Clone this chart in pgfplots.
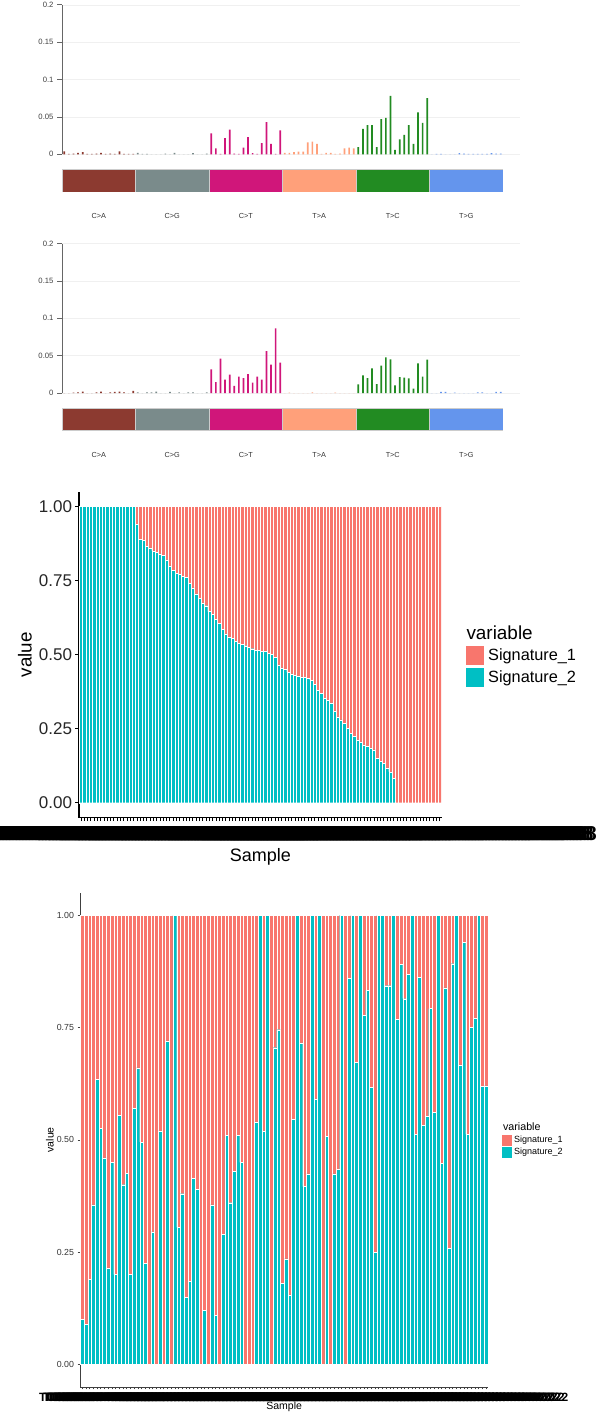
\documentclass[border=0pt]{standalone}
\usepackage{pgfplots}
\pgfplotsset{compat=1.18}
\usepackage{pgfplotstable}
\usepackage{fontspec}
\setmainfont{Liberation Sans}
\newcommand{\fs}[1]{\fontsize{#1pt}{#1pt}\selectfont}
\definecolor{cCA}{RGB}{140,58,48}
\definecolor{cCG}{RGB}{122,139,139}
\definecolor{cCT}{RGB}{208,22,122}
\definecolor{cTA}{RGB}{255,160,122}
\definecolor{cTC}{RGB}{34,139,34}
\definecolor{cTG}{RGB}{100,149,237}
\definecolor{sigone}{HTML}{F8766D}
\definecolor{sigtwo}{HTML}{00BFC4}
\newcommand{\labA}{TCGA-AB-2803-03A-01W-0728-08}
\newcommand{\labS}{TCGA-AB-2803}
\newcommand{\labL}{TCGA-AB-2803-03A-01W-072}

\pgfplotstableread{
x s2 s1
0 1 0
1 1 0
2 1 0
3 1 0
4 1 0
5 1 0
6 1 0
7 1 0
8 1 0
9 1 0
10 1 0
11 1 0
12 1 0
13 1 0
14 1 0
15 1 0
16 1 0
17 0.94 0.06
18 0.89 0.11
19 0.885 0.115
20 0.865 0.135
21 0.86 0.14
22 0.85 0.15
23 0.845 0.155
24 0.84 0.16
25 0.835 0.165
26 0.82 0.18
27 0.80 0.20
28 0.785 0.215
29 0.775 0.225
30 0.77 0.23
31 0.765 0.235
32 0.76 0.24
33 0.74 0.26
34 0.725 0.275
35 0.705 0.295
36 0.69 0.31
37 0.675 0.325
38 0.665 0.335
39 0.645 0.355
40 0.635 0.365
41 0.62 0.38
42 0.605 0.395
43 0.585 0.415
44 0.57 0.43
45 0.56 0.44
46 0.555 0.445
47 0.545 0.455
48 0.54 0.46
49 0.535 0.465
50 0.53 0.47
51 0.525 0.475
52 0.52 0.48
53 0.515 0.485
54 0.515 0.485
55 0.51 0.49
56 0.51 0.49
57 0.505 0.495
58 0.50 0.50
59 0.49 0.51
60 0.465 0.535
61 0.455 0.545
62 0.45 0.55
63 0.44 0.56
64 0.435 0.565
65 0.43 0.57
66 0.428 0.572
67 0.425 0.575
68 0.423 0.577
69 0.42 0.58
70 0.414 0.586
71 0.40 0.60
72 0.38 0.62
73 0.37 0.63
74 0.353 0.647
75 0.345 0.655
76 0.337 0.663
77 0.31 0.69
78 0.29 0.71
79 0.28 0.72
80 0.268 0.732
81 0.25 0.75
82 0.234 0.766
83 0.225 0.775
84 0.212 0.788
85 0.205 0.795
86 0.195 0.805
87 0.19 0.81
88 0.185 0.815
89 0.178 0.822
90 0.149 0.851
91 0.14 0.86
92 0.132 0.868
93 0.118 0.882
94 0.104 0.896
95 0.082 0.918
96 0 1
97 0 1
98 0 1
99 0 1
100 0 1
101 0 1
102 0 1
103 0 1
104 0 1
105 0 1
106 0 1
107 0 1
108 0 1
109 0 1
}\sortedtab

\pgfplotstableread{
x s2 s1
0 0.10 0.90
1 0.09 0.91
2 0.19 0.81
3 0.355 0.645
4 0.635 0.365
5 0.525 0.475
6 0.46 0.54
7 0.215 0.785
8 0.45 0.55
9 0.20 0.80
10 0.555 0.445
11 0.40 0.60
12 0.425 0.575
13 0.20 0.80
14 0.57 0.43
15 0.66 0.34
16 0.495 0.505
17 0.225 0.775
18 0 1
19 0.295 0.705
20 0 1
21 0.52 0.48
22 0 1
23 0.72 0.28
24 0 1
25 1 0
26 0.305 0.695
27 0.38 0.62
28 0.15 0.85
29 0.185 0.815
30 0.415 0.585
31 0.39 0.61
32 0 1
33 0.12 0.88
34 0 1
35 0.355 0.645
36 0.11 0.89
37 0 1
38 0.29 0.71
39 0.51 0.49
40 0.36 0.64
41 0.43 0.57
42 0.51 0.49
43 0.45 0.55
44 0 1
45 0 1
46 0 1
47 0.54 0.46
48 1 0
49 0.52 0.48
50 1 0
51 0 1
52 0.705 0.295
53 0.745 0.255
54 0.18 0.82
55 0.235 0.765
56 0.155 0.845
57 0.545 0.455
58 1 0
59 0.716 0.284
60 0.396 0.604
61 0.424 0.576
62 1 0
63 0.591 0.409
64 1 0
65 0 1
66 0.508 0.492
67 0 1
68 0.424 0.576
69 0.435 0.565
70 1 0
71 0 1
72 0.859 0.141
73 1 0
74 0.673 0.327
75 1 0
76 0.777 0.223
77 0.833 0.167
78 0.617 0.383
79 0.249 0.751
80 1 0
81 1 0
82 0.843 0.157
83 0.843 0.157
84 1 0
85 0.768 0.232
86 0.89 0.11
87 0.814 0.186
88 0.868 0.132
89 1 0
90 0.512 0.488
91 0.862 0.138
92 0.532 0.468
93 0.553 0.447
94 0.792 0.208
95 0.561 0.439
96 1 0
97 0.448 0.552
98 0.838 0.162
99 0.258 0.742
100 0.892 0.108
101 1 0
102 0.667 0.333
103 0.94 0.06
104 0.512 0.488
105 0.751 0.249
106 0.77 0.23
107 1 0
108 0.619 0.381
109 0.62 0.38
}\rawtab

\pgfplotsset{
  spec/.style={
    scale only axis, width=458pt, height=149.5pt,
    xmin=-0.5, xmax=99.2, ymin=0, ymax=0.2,
    axis x line=none, axis y line=left,
    y axis line style={-, draw=black!60, line width=0.7pt},
    ytick={0,0.05,0.1,0.15,0.2},
    yticklabels={0,0.05,0.1,0.15,0.2},
    ytick style={draw=black!60, line width=0.7pt},
    tick align=outside, major tick length=5pt,
    yticklabel style={font=\fs{7.7}, text=black!75},
    ymajorgrids, grid style={black!6, line width=0.5pt},
    clip=false,
  },
  specbar/.style={ybar, bar width=1.7pt, bar shift=0pt, draw=none, fill=#1},
  strip/.style={
    scale only axis, width=441pt, height=#1,
    xmin=-0.5, xmax=95.5, ymin=0, ymax=1,
    axis line style={draw=none}, major tick length=0pt,
    ytick=\empty, xtick={7.5,23.5,39.5,55.5,71.5,87.5},
    xticklabels={C>A,C>G,C>T,T>A,T>C,T>G},
    xticklabel style={font=\fs{7.3}, text=black!80, anchor=center, yshift=-24pt},
  },
  stripbar/.style={ybar, bar width=16, bar shift=0pt, fill=#1, draw=white!80!black, line width=0.6pt},
}

\begin{document}
\begin{tikzpicture}
\useasboundingbox (0pt,0pt) rectangle (596pt,-1415pt);

% ---------------- panel 1 ----------------
\begin{axis}[spec, at={(62pt,-154.3pt)}, anchor=south west]
\addplot[specbar=cCA] coordinates {(0,0.004)(1,0.0005)(2,0.0008)(3,0.002)(4,0.003)(5,0.0005)(6,0.0005)(7,0.001)(8,0.002)(9,0.0005)(10,0.001)(11,0.0005)(12,0.004)(13,0.0005)(14,0.0005)(15,0.0005)};
\addplot[specbar=cCG] coordinates {(16,0.002)(17,0.0005)(18,0.0005)(19,0)(20,0)(21,0)(22,0.001)(23,0)(24,0.002)(25,0)(26,0)(27,0)(28,0.0015)(29,0)(30,0)(31,0.001)};
\addplot[specbar=cCT] coordinates {(32,0.028)(33,0.008)(34,0.0005)(35,0.0215)(36,0.033)(37,0.001)(38,0.0005)(39,0.009)(40,0.023)(41,0.0015)(42,0.0005)(43,0.015)(44,0.043)(45,0.014)(46,0.0005)(47,0.032)};
\addplot[specbar=cTA] coordinates {(48,0.002)(49,0.002)(50,0.003)(51,0.0035)(52,0.0035)(53,0.016)(54,0.017)(55,0.014)(56,0.0005)(57,0.002)(58,0.002)(59,0.0005)(60,0.001)(61,0.008)(62,0.009)(63,0.008)};
\addplot[specbar=cTC] coordinates {(64,0.0095)(65,0.034)(66,0.039)(67,0.039)(68,0.0095)(69,0.047)(70,0.0487)(71,0.078)(72,0.006)(73,0.020)(74,0.026)(75,0.039)(76,0.014)(77,0.056)(78,0.042)(79,0.075)};
\addplot[specbar=cTG] coordinates {(80,0)(81,0.0005)(82,0.0005)(83,0)(84,0)(85,0)(86,0.0015)(87,0.001)(88,0.0005)(89,0.0005)(90,0.0005)(91,0.0005)(92,0.0005)(93,0.0015)(94,0.001)(95,0.001)};
\end{axis}
\begin{axis}[strip=23pt, at={(62pt,-192pt)}, anchor=south west]
\addplot[stripbar=cCA] coordinates {(7.5,1)};
\addplot[stripbar=cCG] coordinates {(23.5,1)};
\addplot[stripbar=cCT] coordinates {(39.5,1)};
\addplot[stripbar=cTA] coordinates {(55.5,1)};
\addplot[stripbar=cTC] coordinates {(71.5,1)};
\addplot[stripbar=cTG] coordinates {(87.5,1)};
\end{axis}

% ---------------- panel 2 ----------------
\begin{axis}[spec, at={(62pt,-393pt)}, anchor=south west]
\addplot[specbar=cCA] coordinates {(0,0)(1,0)(2,0.0005)(3,0.0008)(4,0.002)(5,0)(6,0)(7,0.0008)(8,0.002)(9,0)(10,0.001)(11,0.0015)(12,0.002)(13,0.001)(14,0)(15,0.003)};
\addplot[specbar=cCG] coordinates {(16,0.0008)(17,0)(18,0.0008)(19,0.001)(20,0.002)(21,0)(22,0)(23,0.0015)(24,0)(25,0.0008)(26,0)(27,0.0008)(28,0.0008)(29,0)(30,0)(31,0.0008)};
\addplot[specbar=cCT] coordinates {(32,0.0317)(33,0.0147)(34,0.046)(35,0.018)(36,0.0245)(37,0.0094)(38,0.022)(39,0.020)(40,0.0254)(41,0.0138)(42,0.022)(43,0.018)(44,0.056)(45,0.038)(46,0.0866)(47,0.0406)};
\addplot[specbar=cTA] coordinates {(48,0)(49,0.0005)(50,0)(51,0)(52,0)(53,0)(54,0.001)(55,0)(56,0)(57,0)(58,0)(59,0.0005)(60,0)(61,0)(62,0)(63,0)};
\addplot[specbar=cTC] coordinates {(64,0.0116)(65,0.0237)(66,0.020)(67,0.033)(68,0.012)(69,0.0366)(70,0.0478)(71,0.045)(72,0.0103)(73,0.0214)(74,0.0205)(75,0.0196)(76,0.006)(77,0.0397)(78,0.0219)(79,0.0446)};
\addplot[specbar=cTG] coordinates {(80,0)(81,0)(82,0.0015)(83,0.0015)(84,0)(85,0.0005)(86,0)(87,0)(88,0)(89,0)(90,0.001)(91,0.001)(92,0)(93,0)(94,0.0015)(95,0.0015)};
\end{axis}
\begin{axis}[strip=22pt, at={(62pt,-430.5pt)}, anchor=south west]
\addplot[stripbar=cCA] coordinates {(7.5,1)};
\addplot[stripbar=cCG] coordinates {(23.5,1)};
\addplot[stripbar=cCT] coordinates {(39.5,1)};
\addplot[stripbar=cTA] coordinates {(55.5,1)};
\addplot[stripbar=cTC] coordinates {(71.5,1)};
\addplot[stripbar=cTG] coordinates {(87.5,1)};
\end{axis}

% ---------------- panel 3 (sorted) ----------------
\begin{axis}[
  at={(79pt,-817.5pt)}, anchor=south west,
  scale only axis, width=362.7pt, height=325.8pt,
  xmin=-0.6, xmax=109.6, ymin=-0.05, ymax=1.05,
  ybar stacked, bar width=1,
  axis x line=bottom, axis y line=left,
  axis line style={-, black, line width=1.1pt},
  tick align=outside, major tick length=3.5pt,
  tick style={black, line width=0.8pt},
  ytick={0,0.25,0.5,0.75,1}, yticklabels={0.00,0.25,0.50,0.75,1.00},
  yticklabel style={font=\fs{17}, text=black!85},
  xtick={0,...,109},
  xticklabel={\labA},
  xticklabel style={font=\fs{20}\bfseries, anchor=center, yshift=-12.5pt},
  xlabel={Sample}, xlabel style={font=\fs{18}, at={(axis description cs:0.5,-0.1203)}, anchor=center},
  ylabel={value}, ylabel style={font=\fs{18.8}, at={(axis description cs:-0.149,0.5)}, anchor=center},
  legend style={at={(axis description cs:1.066,0.592)}, anchor=north west, draw=none, fill=none,
    inner sep=0pt, outer sep=0pt, font=\fs{16.3}, row sep=4.3pt, column sep=3.5pt,
    nodes={inner sep=1pt}},
  legend cell align=left,
]
\addlegendimage{empty legend}\addlegendentry{\hspace*{-21.6pt}\fs{18.9}variable}
\addlegendimage{legend image code/.code={\fill[sigone] (0pt,-8.8pt) rectangle (17.6pt,8.8pt);}}\addlegendentry{Signature\_1}
\addlegendimage{legend image code/.code={\fill[sigtwo] (0pt,-8.8pt) rectangle (17.6pt,8.8pt);}}\addlegendentry{Signature\_2}
\addplot[fill=sigtwo, draw=white, line width=0.35pt] table[x=x, y=s2] {\sortedtab};
\addplot[fill=sigone, draw=white, line width=0.35pt] table[x=x, y=s1] {\sortedtab};
\end{axis}

% ---------------- panel 4 (unsorted) ----------------
\begin{axis}[
  at={(80pt,-1386.9pt)}, anchor=south west,
  scale only axis, width=408.3pt, height=494.2pt,
  xmin=-0.6, xmax=109.6, ymin=-0.05, ymax=1.05,
  ybar stacked, bar width=1,
  axis x line=bottom, axis y line=left,
  axis line style={-, black!75, line width=0.7pt},
  tick align=outside, major tick length=2.5pt,
  tick style={black!75, line width=0.5pt},
  ytick={0,0.25,0.5,0.75,1}, yticklabels={0.00,0.25,0.50,0.75,1.00},
  yticklabel style={font=\fs{8.8}, text=black!80},
  xtick={0,...,109},
  xticklabel={\ifnum\ticknum<12 \labS\else\labL\fi},
  xticklabel style={font=\fs{12}\bfseries, anchor=center, yshift=-7.5pt},
  xlabel={Sample}, xlabel style={font=\fs{10.5}, at={(axis description cs:0.5,-0.0407)}, anchor=center},
  ylabel={value}, ylabel style={font=\fs{10.5}, at={(axis description cs:-0.0735,0.5)}, anchor=center},
  legend style={at={(axis description cs:1.0328,0.536)}, anchor=north west, draw=none, fill=none,
    inner sep=0pt, outer sep=0pt, font=\fs{9}, row sep=2pt, column sep=1.6pt,
    nodes={inner sep=1pt}},
  legend cell align=left,
]
\addlegendimage{empty legend}\addlegendentry{\hspace*{-11pt}\fs{10.7}variable}
\addlegendimage{legend image code/.code={\fill[sigone] (0pt,-4.7pt) rectangle (9.4pt,4.7pt);}}\addlegendentry{Signature\_1}
\addlegendimage{legend image code/.code={\fill[sigtwo] (0pt,-4.7pt) rectangle (9.4pt,4.7pt);}}\addlegendentry{Signature\_2}
\addplot[fill=sigtwo, draw=white, line width=0.3pt] table[x=x, y=s2] {\rawtab};
\addplot[fill=sigone, draw=white, line width=0.3pt] table[x=x, y=s1] {\rawtab};
\end{axis}
\end{tikzpicture}
\end{document}
